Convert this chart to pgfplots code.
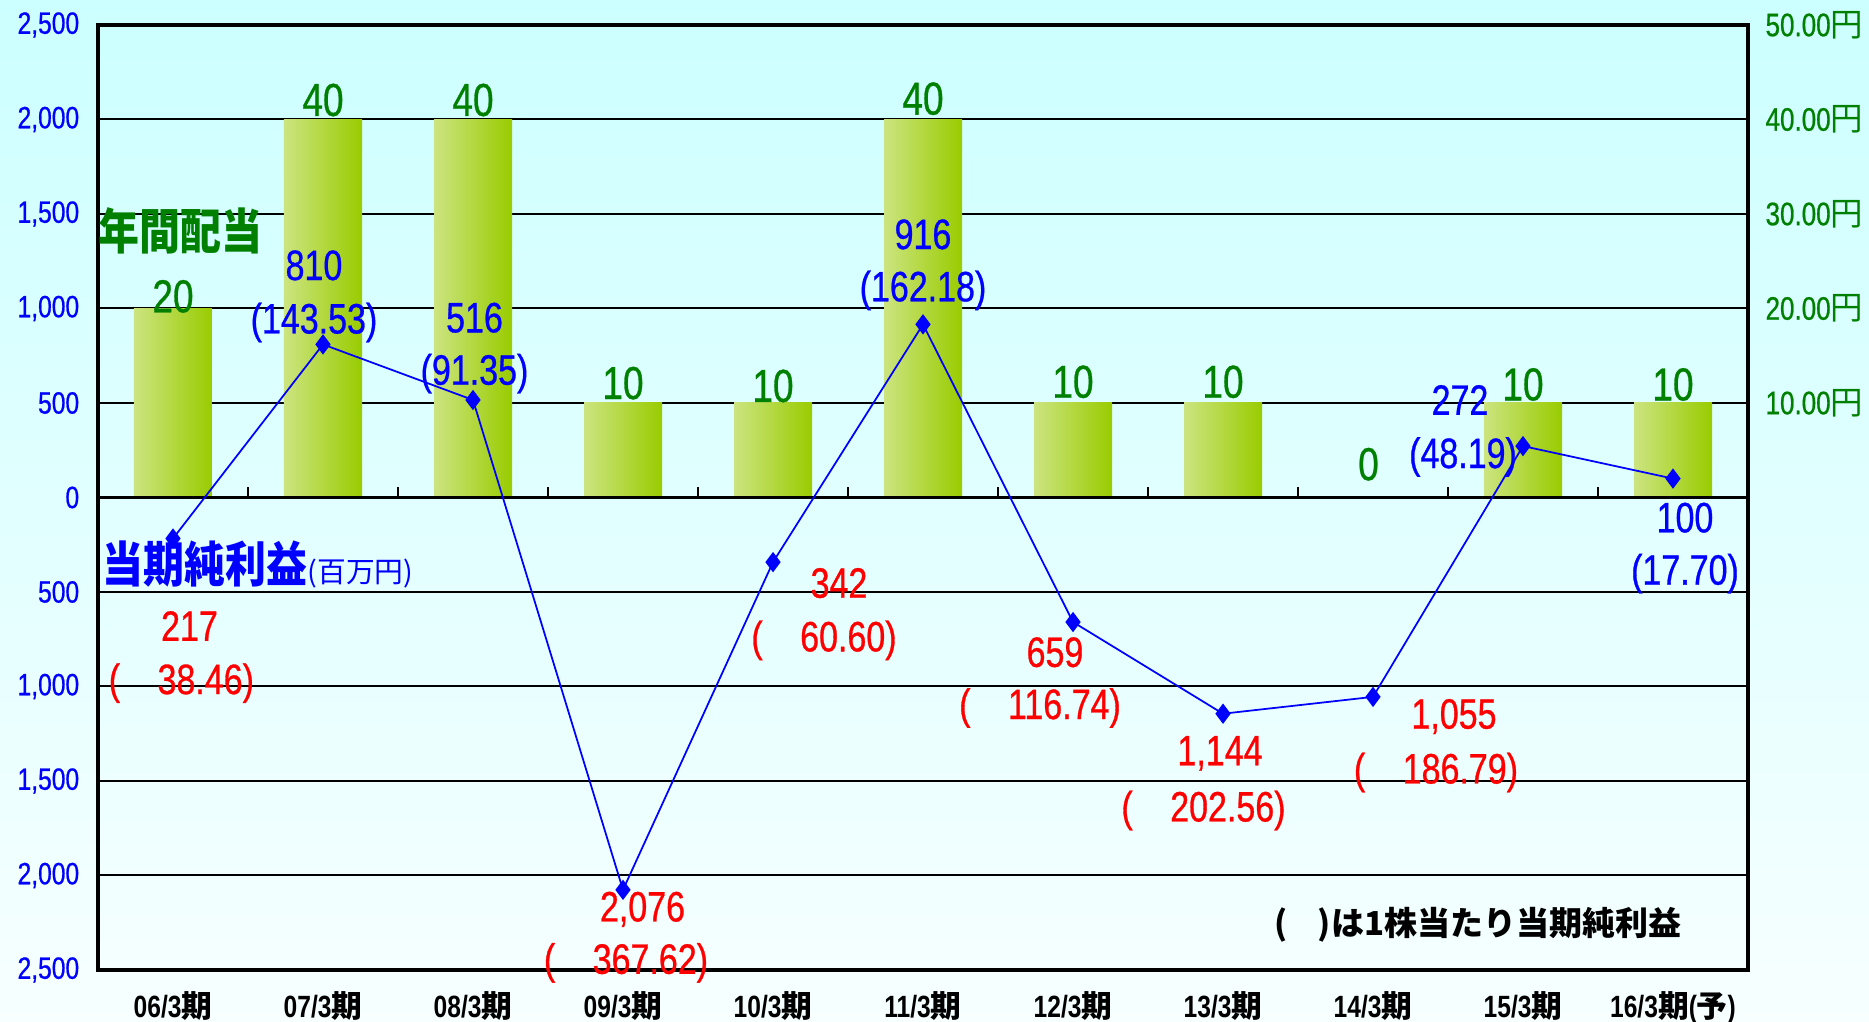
\documentclass[border=0pt]{standalone}
\usepackage{pgfplots}
\pgfplotsset{compat=1.18}
\usepackage{fontspec}
\setmainfont{Liberation Sans}[FakeStretch=0.8, UprightFeatures={FakeBold=0.7}]
\newfontfamily\jp{Noto Sans CJK JP}[FakeStretch=0.84]
\newfontfamily\jpn{Noto Sans CJK JP}
\definecolor{bgtop}{RGB}{204,255,255}
\definecolor{bgbot}{RGB}{247,255,255}
\definecolor{barL}{RGB}{204,228,128}
\definecolor{barR}{RGB}{153,204,0}
\definecolor{dgreen}{RGB}{0,128,0}
\newcommand\lf{\fontsize{17}{20}\selectfont}
\newcommand\barfont{\fontsize{18.5}{22}\selectfont}
\pgfplotsset{mybar/.style={draw=none, left color=barL, right color=barR, bar shift=0pt}}
\begin{document}
\begin{tikzpicture}
\shade[top color=bgtop, bottom color=bgbot] (-39.2pt,-20.8pt) rectangle (708.4pt,388pt);
% axis 1: grid, frame, left and x labels
\begin{axis}[
 at={(0,0)}, anchor=south west,
 scale only axis, width=660pt, height=378pt,
 xmin=-0.5, xmax=10.5, ymin=-2500, ymax=2500,
 ytick={-2500,-2000,...,2500},
 yticklabels={{2,500},{2,000},{1,500},{1,000},500,0,500,{1,000},{1,500},{2,000},{2,500}},
 xtick={0,...,10},
 xticklabels={06/3{\jpn 期},07/3{\jpn 期},08/3{\jpn 期},09/3{\jpn 期},10/3{\jpn 期},11/3{\jpn 期},12/3{\jpn 期},13/3{\jpn 期},14/3{\jpn 期},15/3{\jpn 期},16/3{\jpn 期}({\jpn 予})},
 major tick length=0,
 ymajorgrids, grid style={black, line width=0.8pt},
 axis line style={line width=1.6pt},
 yticklabel style={font=\fontsize{12.3}{14}\selectfont, text=blue, xshift=-4pt},
 xticklabel style={font=\fontsize{12.3}{14}\selectfont\bfseries, text=black, yshift=-5pt},
]
\end{axis}
% axis 2: bars, right axis
\begin{axis}[
 at={(0,0)}, anchor=south west,
 scale only axis, width=660pt, height=378pt,
 xmin=-0.5, xmax=10.5, ymin=-50, ymax=50,
 ybar, bar width=0.52,
 axis y line*=right, axis x line=none,
 axis line style={draw=none},
 ytick={10,20,30,40,50},
 yticklabels={10.00{\jpn 円},20.00{\jpn 円},30.00{\jpn 円},40.00{\jpn 円},50.00{\jpn 円}},
 major tick length=0,
 yticklabel style={font=\fontsize{13}{15}\selectfont, text=dgreen, xshift=3.5pt},
]
\addplot[mybar] coordinates {(0,20)};
\addplot[mybar] coordinates {(1,40)};
\addplot[mybar] coordinates {(2,40)};
\addplot[mybar] coordinates {(3,10)};
\addplot[mybar] coordinates {(4,10)};
\addplot[mybar] coordinates {(5,40)};
\addplot[mybar] coordinates {(6,10)};
\addplot[mybar] coordinates {(7,10)};
\addplot[mybar] coordinates {(8,0)};
\addplot[mybar] coordinates {(9,10)};
\addplot[mybar] coordinates {(10,10)};
\end{axis}
% axis 3: line and labels
\begin{axis}[
 at={(0,0)}, anchor=south west,
 scale only axis, width=660pt, height=378pt,
 xmin=-0.5, xmax=10.5, ymin=-2500, ymax=2500,
 hide axis, clip=false,
]
\draw[black, line width=1.1pt] (axis cs:-0.5,0) -- (axis cs:10.5,0);
\draw[black, line width=0.8pt] (axis cs:0.5,0) -- ++(0pt,4pt);
\draw[black, line width=0.8pt] (axis cs:1.5,0) -- ++(0pt,4pt);
\draw[black, line width=0.8pt] (axis cs:2.5,0) -- ++(0pt,4pt);
\draw[black, line width=0.8pt] (axis cs:3.5,0) -- ++(0pt,4pt);
\draw[black, line width=0.8pt] (axis cs:4.5,0) -- ++(0pt,4pt);
\draw[black, line width=0.8pt] (axis cs:5.5,0) -- ++(0pt,4pt);
\draw[black, line width=0.8pt] (axis cs:6.5,0) -- ++(0pt,4pt);
\draw[black, line width=0.8pt] (axis cs:7.5,0) -- ++(0pt,4pt);
\draw[black, line width=0.8pt] (axis cs:8.5,0) -- ++(0pt,4pt);
\draw[black, line width=0.8pt] (axis cs:9.5,0) -- ++(0pt,4pt);
\addplot[blue, line width=0.7pt, mark=diamond*, mark size=3.5pt, mark options={fill=blue}] coordinates {
 (0,-217) (1,810) (2,516) (3,-2076) (4,-342) (5,916) (6,-659) (7,-1144) (8,-1055) (9,272) (10,100)};
% dividend labels
\begin{scope}[every node/.style={text=dgreen, font=\barfont, inner sep=0pt}]
\node at (axis cs:0,1064) {20};
\node at (axis cs:1,2103) {40};
\node at (axis cs:2,2103) {40};
\node at (axis cs:3,605) {10};
\node at (axis cs:4,590) {10};
\node at (axis cs:5,2110) {40};
\node at (axis cs:6,612) {10};
\node at (axis cs:7,612) {10};
\node at (axis cs:7.97,176) {0};
\node at (axis cs:9,598) {10};
\node at (axis cs:10.0,598) {10};
\end{scope}
% positive net income labels
\begin{scope}[every node/.style={text=blue, font=\lf, inner sep=0pt}]
\node at (axis cs:0.94,1228) {810};
\node at (axis cs:0.94,926) {(143.53)};
\node at (axis cs:2.01,951) {516};
\node at (axis cs:2.01,655) {(91.35)};
\node at (axis cs:5.0,1392) {916};
\node at (axis cs:5.0,1096) {(162.18)};
\node at (axis cs:8.58,516) {272};
\node at (axis cs:8.6,214) {(48.19)};
\node at (axis cs:10.08,-107) {100};
\node at (axis cs:10.08,-403) {(17.70)};
\end{scope}
% negative net income labels
\begin{scope}[every node/.style={text=red, font=\lf, inner sep=0pt}]
\node at (axis cs:0.11,-680) {217};
\node at (axis cs:0.056,-982) {(\hspace{15pt}38.46)};
\node at (axis cs:3.13,-2179) {2,076};
\node at (axis cs:3.02,-2462) {(\hspace{15pt}367.62)};
\node at (axis cs:4.44,-453) {342};
\node at (axis cs:4.34,-756) {(\hspace{15pt}60.60)};
\node at (axis cs:5.88,-819) {659};
\node at (axis cs:5.78,-1114) {(\hspace{15pt}116.74)};
\node at (axis cs:6.98,-1354) {1,144};
\node at (axis cs:6.87,-1656) {(\hspace{15pt}202.56)};
\node at (axis cs:8.54,-1159) {1,055};
\node at (axis cs:8.42,-1455) {(\hspace{15pt}186.79)};
\end{scope}
\node[anchor=west, text=dgreen, inner sep=0pt, font=\fontsize{19.5}{24}\jp\bfseries] at (axis cs:-0.5,1411) {年間配当};
\node[anchor=west, text=blue, inner sep=0pt] at (axis cs:-0.47,-353) {{\fontsize{19.5}{24}\jp\bfseries 当期純利益}{\fontsize{11.5}{14}\jpn (百万円)}};
\node[text=black, inner sep=0pt, font=\fontsize{13.2}{15}\jpn\bfseries] at (axis cs:8.70,-2261) {(\hspace{0.9em})は1株当たり当期純利益};
\end{axis}
\pgfresetboundingbox
\useasboundingbox (-39.2pt,-20.8pt) rectangle (708.4pt,388pt);
\end{tikzpicture}
\end{document}
